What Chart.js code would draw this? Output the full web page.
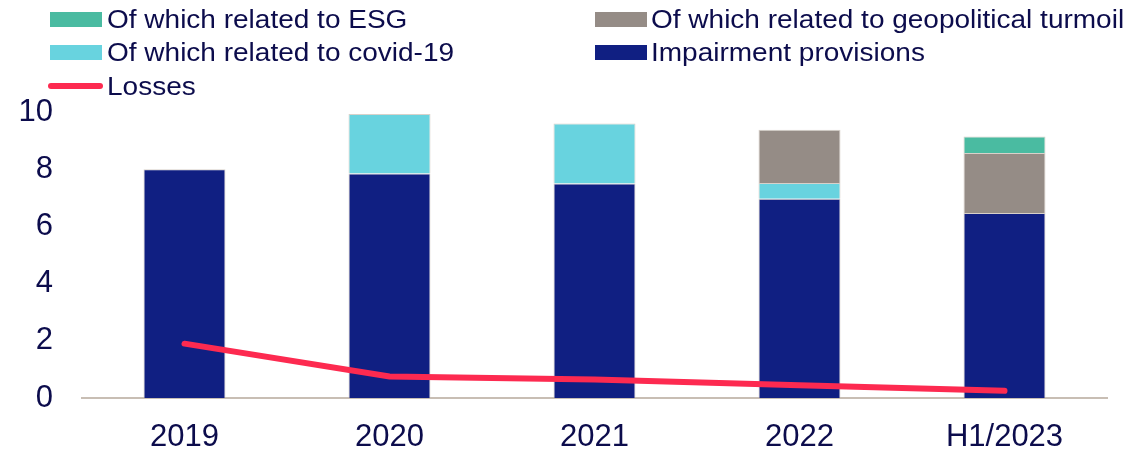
<!DOCTYPE html>
<html>
<head>
<meta charset="utf-8">
<script src="https://cdn.jsdelivr.net/npm/chart.js@4"></script>
<style>
  body { margin: 0; background: #fff; font-family: "Liberation Sans", Arial, sans-serif; }
  #wrap { position: relative; width: 1148px; height: 452px; }
  #legend { position: absolute; left: 0; top: 0; width: 1148px; height: 100px; }
  .item { position: absolute; height: 34px; }
  .item .box { position: absolute; left: 0; top: 10px; width: 52px; height: 15px; }
  .item .ln { position: absolute; left: 0; top: 14px; width: 55px; height: 6px; border-radius: 3px; }
  .item .t { position: absolute; top: 0; line-height: 34px; font-size: 25px; color: #0c0c4c;
             white-space: nowrap; transform: scaleX(1.12); transform-origin: left center; }
</style>
</head>
<body>
<div id="wrap">
  <canvas id="impChart" width="1148" height="452"></canvas>
  <div id="legend"></div>
</div>
<script>
const categories = ['2019', '2020', '2021', '2022', 'H1/2023'];
const impairment = [8.0, 7.85, 7.5, 6.97, 6.47];
const covid = [0, 2.08, 2.1, 0.55, 0];
const geopolitical = [0, 0, 0, 1.86, 2.1];
const esg = [0, 0, 0, 0, 0.57];
const losses = [1.9, 0.75, 0.65, 0.45, 0.25];
const yTicks = [0, 2, 4, 6, 8, 10];

const navy = '#101f82';
const cyan = '#68d3df';
const grey = '#958c86';
const teal = '#4abba1';
const red = '#fd2a50';
const textColor = '#0c0c4c';

// legend built by hand, two columns
const legendItems = [
  { label: 'Of which related to ESG', color: teal, x: 50, y: 2, tx: 57 },
  { label: 'Of which related to geopolitical turmoil', color: grey, x: 595, y: 2, tx: 56 },
  { label: 'Of which related to covid-19', color: cyan, x: 50, y: 35, tx: 57 },
  { label: 'Impairment provisions', color: navy, x: 595, y: 35, tx: 56 },
  { label: 'Losses', color: red, x: 48, y: 69, tx: 59, line: true }
];
const legendEl = document.getElementById('legend');
legendItems.forEach(it => {
  const d = document.createElement('div');
  d.className = 'item';
  d.style.left = it.x + 'px';
  d.style.top = it.y + 'px';
  d.innerHTML = '<div class="' + (it.line ? 'ln' : 'box') + '" style="background:' + it.color + '"></div>' +
    '<span class="t" style="left:' + it.tx + 'px">' + it.label + '</span>';
  legendEl.appendChild(d);
});

const barBorder = 'rgba(200,190,180,0.7)';
const tickFont = { family: 'Liberation Sans', size: 31 };

const data = {
  labels: categories,
  datasets: [
    { type: 'line', label: 'Losses', data: losses, borderColor: red, borderWidth: 6,
      pointRadius: 0, borderCapStyle: 'round', tension: 0, order: 0 },
    { label: 'Impairment provisions', data: impairment, backgroundColor: navy, borderColor: barBorder, borderWidth: 1, order: 1 },
    { label: 'Of which related to covid-19', data: covid, backgroundColor: cyan, borderColor: barBorder, borderWidth: 1, order: 1 },
    { label: 'Of which related to geopolitical turmoil', data: geopolitical, backgroundColor: grey, borderColor: barBorder, borderWidth: 1, order: 1 },
    { label: 'Of which related to ESG', data: esg, backgroundColor: teal, borderColor: barBorder, borderWidth: 1, order: 1 }
  ]
};

const config = {
  type: 'bar',
  data: data,
  options: {
    responsive: false,
    animation: false,
    layout: { padding: { top: 112, left: 0, right: 41, bottom: 0 } },
    datasets: { bar: { stack: 'a', categoryPercentage: 1, barPercentage: 0.4 } },
    plugins: { legend: { display: false }, tooltip: { enabled: false } },
    scales: {
      x: {
        stacked: true,
        grid: { display: false },
        border: { color: '#c8beb4', width: 2 },
        ticks: { color: textColor, font: tickFont, padding: 13 },
        afterFit: axis => { axis.height = 54; }
      },
      y: {
        stacked: true,
        min: 0, max: 10,
        afterBuildTicks: axis => { axis.ticks = yTicks.map(v => ({ value: v })); },
        grid: { display: false },
        border: { display: false },
        ticks: { color: textColor, font: tickFont, padding: 21 },
        afterFit: axis => { axis.width = 82; }
      }
    }
  }
};

new Chart(document.getElementById('impChart').getContext('2d'), config);
</script>
</body>
</html>
